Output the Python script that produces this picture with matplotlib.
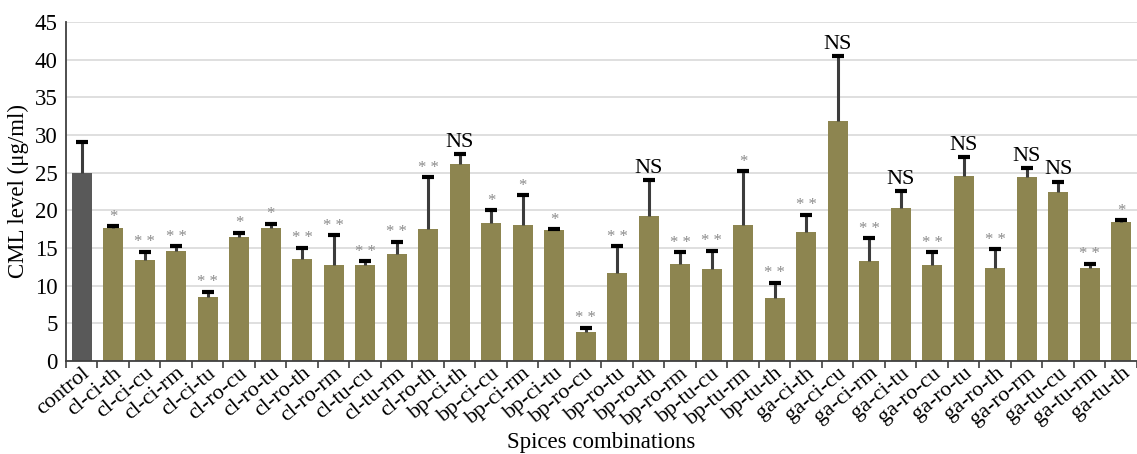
import matplotlib.pyplot as plt
import numpy as np

plt.rcParams['font.family'] = ['Liberation Serif', 'DejaVu Serif']

# Data
labels = ['control',
          'cl-ci-th', 'cl-ci-cu', 'cl-ci-rm', 'cl-ci-tu', 'cl-ro-cu', 'cl-ro-tu',
          'cl-ro-th', 'cl-ro-rm', 'cl-tu-cu', 'cl-tu-rm', 'cl-ro-th',
          'bp-ci-th', 'bp-ci-cu', 'bp-ci-rm', 'bp-ci-tu', 'bp-ro-cu', 'bp-ro-tu',
          'bp-ro-th', 'bp-ro-rm', 'bp-tu-cu', 'bp-tu-rm', 'bp-tu-th',
          'ga-ci-th', 'ga-ci-cu', 'ga-ci-rm', 'ga-ci-tu', 'ga-ro-cu', 'ga-ro-tu',
          'ga-ro-th', 'ga-ro-rm', 'ga-tu-cu', 'ga-tu-rm', 'ga-tu-th']
means = [25.0,
         17.7, 13.4, 14.6, 8.5, 16.5, 17.7, 13.5, 12.8, 12.8, 14.2, 17.5,
         26.1, 18.3, 18.1, 17.4, 3.9, 11.7, 19.3, 12.9, 12.2, 18.1, 8.4,
         17.15, 31.9, 13.2, 20.3, 12.8, 24.6, 12.3, 24.4, 22.45, 12.3, 18.4]
err_top = [29.0,
           17.9, 14.5, 15.25, 9.2, 17.0, 18.2, 15.0, 16.7, 13.2, 15.8, 24.4,
           27.5, 20.0, 22.0, 17.5, 4.4, 15.25, 24.0, 14.4, 14.6, 25.2, 10.4,
           19.4, 40.5, 16.3, 22.5, 14.4, 27.1, 14.8, 25.6, 23.8, 12.9, 18.7]
marks = ['',
         '*', '**', '**', '**', '*', '*', '**', '**', '**', '**', '**',
         'NS', '*', '*', '*', '**', '**', 'NS', '**', '**', '*', '**',
         '**', 'NS', '**', 'NS', '**', 'NS', '**', 'NS', 'NS', '**', '*']

x = np.arange(len(labels))
means = np.array(means)
err_top = np.array(err_top)

fig = plt.figure(figsize=(11.37, 4.54), dpi=100)
ax = fig.add_axes([0.058, 0.205, 0.942, 0.7467])

colors = ['#595959'] + ['#8d8550'] * (len(labels) - 1)
ax.bar(x, means, width=0.63, color=colors, zorder=2)
# upper-only error bars with a cap at the top
ax.vlines(x, means, err_top, color='#3c3c3c', linewidth=2.2, zorder=3)
ax.plot(x, err_top, ls='none', marker='_', ms=9, mew=3, color='black', zorder=4)

for xi, top, m in zip(x, err_top, marks):
    if m == 'NS':
        ax.text(xi, top + 0.3, m, ha='center', va='bottom', fontsize=16, color='black')
    elif m:
        ax.text(xi, top + 0.2, ' '.join(m), ha='center', va='bottom', fontsize=12,
                color='#8a8a8a')

ax.set_ylim(0, 45)
ax.set_xlim(-0.5, 33.29)
ax.set_yticks(np.arange(0, 46, 5))
ax.yaxis.grid(True, color='#d9d9d9', linewidth=1.2, zorder=0)
ax.set_axisbelow(True)

ax.set_xticks(x)
ax.set_xticklabels(labels, rotation=40, ha='right', rotation_mode='anchor', fontsize=16)
ax.set_xticks(np.arange(-0.5, len(labels), 1), minor=True)
ax.tick_params(axis='x', which='major', length=0, pad=2)
ax.tick_params(axis='x', which='minor', length=5, width=1.2, color='#404040')
ax.tick_params(axis='y', length=0, labelsize=16.5, pad=6)

for s in ['top', 'right']:
    ax.spines[s].set_visible(False)
for s in ['left', 'bottom']:
    ax.spines[s].set_color('#404040')
    ax.spines[s].set_linewidth(1.3)

ax.set_ylabel('CML level (μg/ml)', fontsize=16.5, labelpad=4)
ax.set_xlabel('Spices combinations', fontsize=16.5, va='center')
ax.xaxis.set_label_coords(0.5, -0.24)

fig.savefig('out.png', dpi=100)
